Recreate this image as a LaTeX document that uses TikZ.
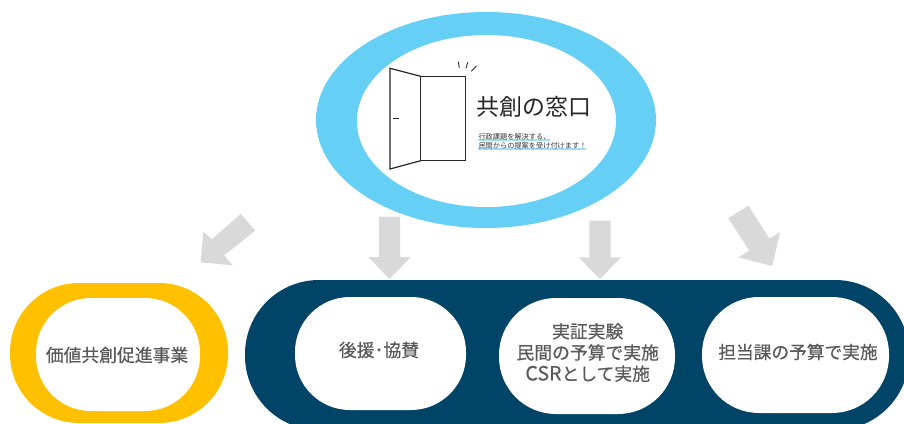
\documentclass[tikz,border=0pt]{standalone}
\usepackage{fontspec}
\usetikzlibrary{shapes.geometric}
\setmainfont{Noto Sans CJK JP}
\newfontfamily\cjkmed[FakeBold=0.4]{Noto Sans CJK JP}
\definecolor{skyc}{HTML}{66CFF6}
\definecolor{softsky}{HTML}{A0E0F8}
\definecolor{goldc}{HTML}{FFC000}
\definecolor{navyc}{HTML}{004468}
\definecolor{arrowc}{HTML}{D9D9D9}
\definecolor{textc}{HTML}{595959}
\tikzset{
  ringshape/.style={ellipse,inner sep=0pt,outer sep=0pt},
  pill/.style={rectangle,fill=white,inner sep=0pt,outer sep=0pt,align=center,text=textc,
    font=\cjkmed\fontsize{17.6}{21}\selectfont},
  bigblock/.style={rectangle,inner sep=0pt,outer sep=0pt},
  bluearrow/.style={fill=arrowc,draw=none},
  doorline/.style={draw=black!85,line width=1.2pt,line join=miter},
  markline/.style={fill=softsky,draw=none}
}
\begin{document}
\begin{tikzpicture}[x=1pt,y=-1pt]
\useasboundingbox (0,0) rectangle (904,423);
\clip (0,0) rectangle (904,423);
% top ellipse
\node[ringshape,fill=skyc,minimum width=340pt,minimum height=216pt] (outer) at (486,120) {};
\node[ringshape,fill=white,minimum width=259pt,minimum height=172pt] (inner) at (486.5,121) {};
% door
\draw[doorline] (420.7,76.3) rectangle (465.3,160.7);
\draw[doorline] (420.7,76.3) -- (390,68.3) -- (390,169) -- (420.7,160.7);
\draw[doorline] (392.7,118.3) -- (399.3,118.3);
\draw[doorline,line width=0.9pt] (458.3,61.7) -- (459.3,67.7);
\draw[doorline,line width=0.9pt] (467.7,62.3) -- (466,68.3);
\draw[doorline,line width=0.9pt] (476.3,66) -- (471.3,71.3);
% title
\node[inner sep=0pt,anchor=west,font=\fontsize{22.9}{26}\selectfont,text=black!85] (title) at (476.5,106.7) {共創の窓口};
% highlights
\fill[markline] (478,138.8) rectangle (550,141.2);
\fill[markline] (478,147.8) rectangle (586,150.2);
\node[inner sep=0pt,anchor=west,font=\fontsize{7.2}{9}\selectfont,text=black!80] (sub1) at (478.3,136.7) {行政課題を解決する、};
\node[inner sep=0pt,anchor=west,font=\fontsize{7.2}{9}\selectfont,text=black!80] (sub2) at (478.3,146) {民間からの提案を受け付けます！};
% arrows
\fill[bluearrow] (240.7,214) -- (255.3,230.7) -- (224,255.3) -- (232.7,265.3) -- (200.7,262.3) -- (203.3,231.7) -- (211.7,239.3) -- cycle;
\fill[bluearrow] (379,216.7) -- (400,216.7) -- (400,257) -- (410.7,257) -- (389.5,279) -- (368.3,257) -- (379,257) -- cycle;
\fill[bluearrow] (589.3,220.7) -- (610.7,220.7) -- (610.7,257.3) -- (621,257.3) -- (600,279) -- (578.7,257.3) -- (589.3,257.3) -- cycle;
\fill[bluearrow] (728.3,218.3) -- (748.3,205.7) -- (769.3,238.3) -- (780,232.3) -- (772.3,266) -- (738.3,257.3) -- (749.3,250.7) -- cycle;
% gold block
\node[bigblock,fill=goldc,minimum width=218pt,minimum height=140pt,rounded corners=69pt] (goldblock) at (119,353) {};
\node[pill,minimum width=164pt,minimum height=113pt,rounded corners=55pt] (kachi) at (118,354.5) {};
\node[inner sep=0pt,text=textc,font=\cjkmed\fontsize{17.8}{21}\selectfont] (kachit) at (117,355) {価値共創促進事業};
% navy block
\node[bigblock,fill=navyc,minimum width=664pt,minimum height=150pt,rounded corners=74pt] (navyblock) at (577,355) {};
\node[pill,minimum width=171pt,minimum height=113pt,rounded corners=55pt] (p1) at (380.5,353.5) {};
\node[pill,minimum width=176pt,minimum height=116pt,rounded corners=57pt] (p2) at (587,356) {};
\node[pill,minimum width=187pt,minimum height=116pt,rounded corners=57pt] (p3) at (795.5,355) {};
\node[inner sep=0pt,text=textc,font=\cjkmed\fontsize{17.8}{21}\selectfont] (t1) at (379,350) {後援･協賛};
\node[inner sep=0pt,text=textc,align=center,font=\cjkmed\fontsize{17.8}{21.2}\selectfont] (t2) at (587.7,352.5) {実証実験\\民間の予算で実施\\{\fontsize{19.6}{21.2}\selectfont CSR}として実施};
\node[inner sep=0pt,text=textc,font=\cjkmed\fontsize{17.7}{21}\selectfont] (t3) at (798,352) {担当課の予算で実施};
\end{tikzpicture}
\end{document}
